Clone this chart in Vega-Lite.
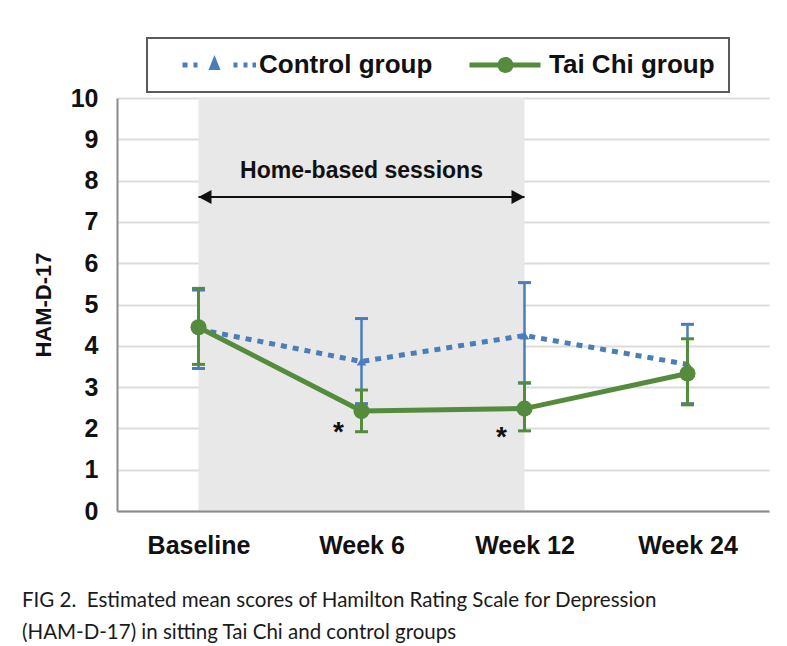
{
  "$schema": "https://vega.github.io/schema/vega-lite/v6.json",
  "width": 652,
  "height": 413,
  "autosize": "none",
  "padding": {"left": 117, "top": 98, "right": 18, "bottom": 135},
  "background": "white",
  "datasets": {
    "scores": [
      {"time": "Baseline", "group": "Control group", "mean": 4.4, "lo": 3.45, "hi": 5.35},
      {"time": "Week 6", "group": "Control group", "mean": 3.62, "lo": 2.6, "hi": 4.66},
      {"time": "Week 12", "group": "Control group", "mean": 4.25, "lo": 3.1, "hi": 5.53},
      {"time": "Week 24", "group": "Control group", "mean": 3.55, "lo": 2.6, "hi": 4.52},
      {"time": "Baseline", "group": "Tai Chi group", "mean": 4.45, "lo": 3.55, "hi": 5.39},
      {"time": "Week 6", "group": "Tai Chi group", "mean": 2.42, "lo": 1.92, "hi": 2.93},
      {"time": "Week 12", "group": "Tai Chi group", "mean": 2.48, "lo": 1.94, "hi": 3.1},
      {"time": "Week 24", "group": "Tai Chi group", "mean": 3.33, "lo": 2.57, "hi": 4.17}
    ],
    "period": [
      {"start": "Baseline", "end": "Week 12", "lo": 0, "hi": 10, "arrowY": 7.6, "mid": "Week 6", "labelY": 8.24, "label": "Home-based sessions"}
    ],
    "stars": [
      {"time": "Week 6", "y": 1.88, "label": "*"},
      {"time": "Week 12", "y": 1.76, "label": "*"}
    ]
  },
  "title": {
    "text": ["FIG 2.\u00a0 Estimated mean scores of Hamilton Rating Scale for Depression", "(HAM-D-17) in sitting Tai Chi and control groups"],
    "orient": "bottom",
    "anchor": "start",
    "frame": "group",
    "dx": -95,
    "offset": 33,
    "font": "Lato",
    "fontSize": 20.5,
    "fontWeight": "normal",
    "color": "#1a1a1a",
    "lineHeight": 32
  },
  "layer": [
    {
      "data": {"name": "period"},
      "mark": {"type": "rect", "color": "#e8e8e8"},
      "encoding": {
        "x": {
          "field": "start", "type": "nominal",
          "scale": {"type": "point", "padding": 0.5, "domain": ["Baseline", "Week 6", "Week 12", "Week 24"]},
          "axis": {"title": null, "labelAngle": 0, "grid": false, "ticks": false, "domain": true, "domainColor": "#8a8a8a", "domainWidth": 2, "labelFont": "Liberation Sans", "labelFontWeight": "bold", "labelFontSize": 25, "labelColor": "#111", "labelPadding": 22}
        },
        "x2": {"field": "end"},
        "y": {
          "field": "lo", "type": "quantitative",
          "scale": {"domain": [0, 10], "nice": false},
          "axis": {"title": "HAM-D-17", "values": [0,1,2,3,4,5,6,7,8,9,10], "grid": true, "gridColor": "#dcdcdc", "gridWidth": 2, "ticks": false, "domain": true, "domainColor": "#8a8a8a", "domainWidth": 2, "labelFont": "Liberation Sans", "labelFontWeight": "bold", "labelFontSize": 25, "labelColor": "#111", "labelPadding": 19, "titleFont": "Liberation Sans", "titleFontWeight": "bold", "titleFontSize": 22, "titleColor": "#111", "titlePadding": 15}
        },
        "y2": {"field": "hi"}
      }
    },
    {
      "data": {"name": "period"},
      "mark": {"type": "rule", "color": "#111", "strokeWidth": 2},
      "encoding": {
        "x": {"field": "start", "type": "nominal"},
        "x2": {"field": "end"},
        "y": {"field": "arrowY", "type": "quantitative"}
      }
    },
    {
      "data": {"name": "period"},
      "mark": {"type": "point", "filled": true, "color": "#111", "opacity": 1, "size": 100, "shape": "M0,0L2.6,-1.4L2.6,1.4Z"},
      "encoding": {
        "x": {"field": "start", "type": "nominal"},
        "y": {"field": "arrowY", "type": "quantitative"}
      }
    },
    {
      "data": {"name": "period"},
      "mark": {"type": "point", "filled": true, "color": "#111", "opacity": 1, "size": 100, "shape": "M0,0L-2.6,-1.4L-2.6,1.4Z"},
      "encoding": {
        "x": {"field": "end", "type": "nominal"},
        "y": {"field": "arrowY", "type": "quantitative"}
      }
    },
    {
      "data": {"name": "period"},
      "mark": {"type": "text", "font": "Liberation Sans", "fontWeight": "bold", "fontSize": 23, "color": "#111", "baseline": "middle", "align": "center"},
      "encoding": {
        "x": {"field": "mid", "type": "nominal"},
        "y": {"field": "labelY", "type": "quantitative"},
        "text": {"field": "label"}
      }
    },
    {
      "data": {"name": "scores"},
      "transform": [{"filter": "datum.group == 'Control group'"}],
      "mark": {"type": "rule", "color": "#4a7ebb", "strokeWidth": 2.5},
      "encoding": {
        "x": {"field": "time", "type": "nominal"},
        "y": {"field": "lo", "type": "quantitative"},
        "y2": {"field": "hi"}
      }
    },
    {
      "data": {"name": "scores"},
      "transform": [{"filter": "datum.group == 'Control group'"}],
      "mark": {"type": "tick", "color": "#4a7ebb", "size": 13, "thickness": 3, "opacity": 1},
      "encoding": {
        "x": {"field": "time", "type": "nominal"},
        "y": {"field": "lo", "type": "quantitative"}
      }
    },
    {
      "data": {"name": "scores"},
      "transform": [{"filter": "datum.group == 'Control group'"}],
      "mark": {"type": "tick", "color": "#4a7ebb", "size": 13, "thickness": 3, "opacity": 1},
      "encoding": {
        "x": {"field": "time", "type": "nominal"},
        "y": {"field": "hi", "type": "quantitative"}
      }
    },
    {
      "data": {"name": "scores"},
      "transform": [{"filter": "datum.group == 'Control group'"}],
      "mark": {"type": "line", "color": "#4a7ebb", "strokeWidth": 5, "strokeDash": [6, 6], "strokeCap": "butt"},
      "encoding": {
        "x": {"field": "time", "type": "nominal"},
        "y": {"field": "mean", "type": "quantitative"}
      }
    },
    {
      "data": {"name": "scores"},
      "transform": [{"filter": "datum.group == 'Control group'"}],
      "mark": {"type": "point", "filled": true, "shape": "triangle-up", "size": 90, "color": "#4a7ebb", "opacity": 1},
      "encoding": {
        "x": {"field": "time", "type": "nominal"},
        "y": {"field": "mean", "type": "quantitative"}
      }
    },
    {
      "data": {"name": "scores"},
      "transform": [{"filter": "datum.group == 'Tai Chi group'"}],
      "mark": {"type": "rule", "color": "#548b3c", "strokeWidth": 3},
      "encoding": {
        "x": {"field": "time", "type": "nominal"},
        "y": {"field": "lo", "type": "quantitative"},
        "y2": {"field": "hi"}
      }
    },
    {
      "data": {"name": "scores"},
      "transform": [{"filter": "datum.group == 'Tai Chi group'"}],
      "mark": {"type": "tick", "color": "#548b3c", "size": 13, "thickness": 3, "opacity": 1},
      "encoding": {
        "x": {"field": "time", "type": "nominal"},
        "y": {"field": "lo", "type": "quantitative"}
      }
    },
    {
      "data": {"name": "scores"},
      "transform": [{"filter": "datum.group == 'Tai Chi group'"}],
      "mark": {"type": "tick", "color": "#548b3c", "size": 13, "thickness": 3, "opacity": 1},
      "encoding": {
        "x": {"field": "time", "type": "nominal"},
        "y": {"field": "hi", "type": "quantitative"}
      }
    },
    {
      "data": {"name": "scores"},
      "transform": [{"filter": "datum.group == 'Tai Chi group'"}],
      "mark": {"type": "line", "color": "#548b3c", "strokeWidth": 5},
      "encoding": {
        "x": {"field": "time", "type": "nominal"},
        "y": {"field": "mean", "type": "quantitative"}
      }
    },
    {
      "data": {"name": "scores"},
      "transform": [{"filter": "datum.group == 'Tai Chi group'"}],
      "mark": {"type": "point", "filled": true, "shape": "circle", "size": 260, "color": "#548b3c", "opacity": 1},
      "encoding": {
        "x": {"field": "time", "type": "nominal"},
        "y": {"field": "mean", "type": "quantitative"}
      }
    },
    {
      "data": {"name": "stars"},
      "mark": {"type": "text", "font": "Liberation Sans", "fontWeight": "bold", "fontSize": 28, "color": "#111", "baseline": "middle", "align": "center", "dx": -23},
      "encoding": {
        "x": {"field": "time", "type": "nominal"},
        "y": {"field": "y", "type": "quantitative"},
        "text": {"field": "label"}
      }
    },
    {
      "data": {"name": "scores"},
      "mark": {"type": "point", "filled": true, "opacity": 0},
      "encoding": {
        "x": {"field": "time", "type": "nominal"},
        "y": {"field": "mean", "type": "quantitative"},
        "color": {
          "field": "group", "type": "nominal",
          "scale": {"domain": ["Control group", "Tai Chi group"], "range": ["#4a7ebb", "#548b3c"]},
          "legend": {
            "title": null,
            "orient": "none",
            "legendX": 30,
            "legendY": -60,
            "direction": "horizontal",
            "columns": 2,
            "columnPadding": 18,
            "padding": 14,
            "strokeColor": "#5a5a5a",
            "fillColor": "white",
            "symbolSize": 625,
            "symbolOpacity": 1,
            "symbolStrokeWidth": 0,
            "labelFont": "Liberation Sans",
            "labelFontWeight": "bold",
            "labelFontSize": 26,
            "labelColor": "#111",
            "labelOffset": 72,
            "labelLimit": 400,
            "encode": {
              "legend": {"update": {"strokeWidth": {"value": 2}}},
              "symbols": {"update": {"fill": {"scale": "color", "field": "value"}, "opacity": {"value": 1}}}
            }
          }
        },
        "shape": {
          "field": "group", "type": "nominal",
          "scale": {
            "domain": ["Control group", "Tai Chi group"],
            "range": [
              "M0.68,-0.2H1.08V0.2H0.68Z M1.56,-0.2H1.88V0.2H1.56Z M3.24,-0.8L3.72,0.4L2.76,0.4Z M4.76,-0.2H5.08V0.2H4.76Z M5.56,-0.2H5.88V0.2H5.56Z M6.28,-0.2H6.56V0.2H6.28Z",
              "M0.44,-0.2H6.12V0.2H0.44Z M3.96,0A0.64,0.64 0 1,1 2.68,0A0.64,0.64 0 1,1 3.96,0Z"
            ]
          }
        }
      }
    }
  ],
  "config": {
    "view": {"stroke": null}
  }
}
